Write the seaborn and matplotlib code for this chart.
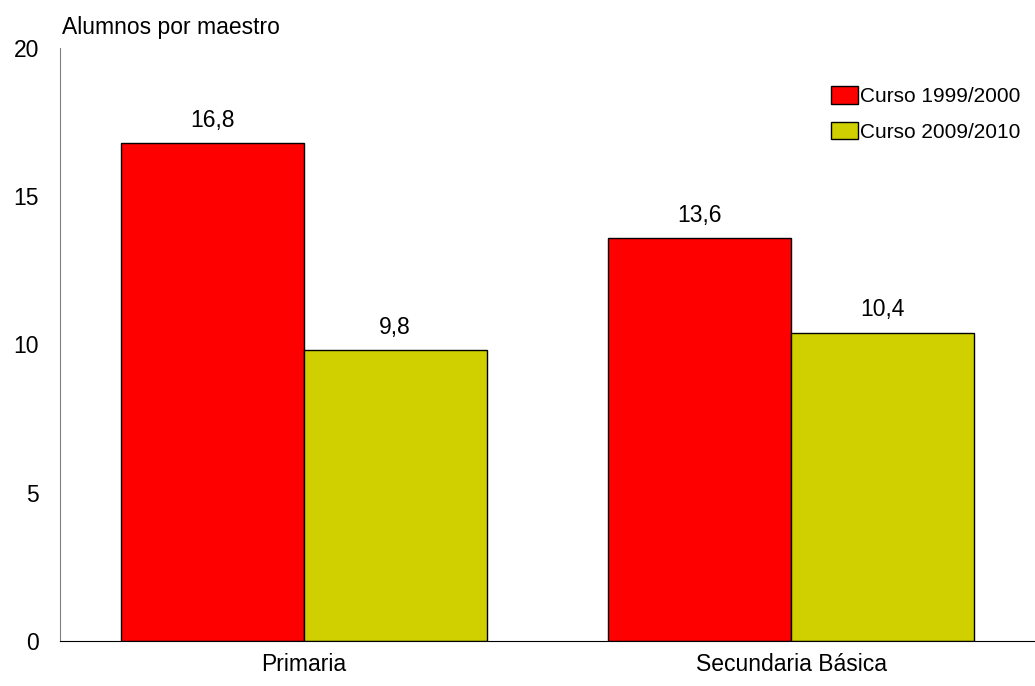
import pandas as pd
import matplotlib.pyplot as plt
import seaborn as sns

sns.set_style("white")
plt.rcParams['font.family'] = ['Liberation Sans', 'DejaVu Sans']
plt.rcParams['text.color'] = 'black'
plt.rcParams['xtick.color'] = 'black'
plt.rcParams['ytick.color'] = 'black'

# data
niveles = ["Primaria", "Secundaria Básica"]
cursos = ["Curso 1999/2000", "Curso 2009/2010"]
valores_1999 = [16.8, 13.6]
valores_2009 = [9.8, 10.4]
colores = ["#ff0000", "#d0d000"]

df = pd.DataFrame({
    "nivel": niveles * 2,
    "curso": [cursos[0]] * 2 + [cursos[1]] * 2,
    "valor": valores_1999 + valores_2009,
})

fig = plt.figure(figsize=(10.35, 6.86), dpi=100)
ax = fig.add_axes([0.058, 0.066, 0.942, 0.864])

sns.barplot(data=df, x="nivel", y="valor", hue="curso", palette=colores,
            width=0.75, edgecolor="black", linewidth=1, saturation=1, ax=ax)

for cont in ax.containers:
    ax.bar_label(cont, labels=[f"{v:.1f}".replace(".", ",") for v in cont.datavalues],
                 padding=8, fontsize=16.5)

ax.set_ylim(0, 20)
ax.set_xlim(-0.5, 1.5)
ax.set_yticks([0, 5, 10, 15, 20])
ax.tick_params(axis="y", labelsize=16.5, pad=15, length=0)
ax.tick_params(axis="x", labelsize=16.5, pad=9, length=0)
ax.set_xlabel("")
ax.set_ylabel("")
ax.text(0.002, 1.015, "Alumnos por maestro", fontsize=16.5, ha="left", va="bottom",
        transform=ax.transAxes)

for s in ["top", "right"]:
    ax.spines[s].set_visible(False)
ax.spines["left"].set_color("#808080")
ax.spines["bottom"].set_color("black")

ax.legend(loc="upper right", bbox_to_anchor=(1.0, 0.96), frameon=False,
          fontsize=15, handlelength=1.3, handleheight=0.9, handletextpad=0.1,
          labelspacing=0.75, borderaxespad=0.3)

fig.savefig("out.png", dpi=100)
